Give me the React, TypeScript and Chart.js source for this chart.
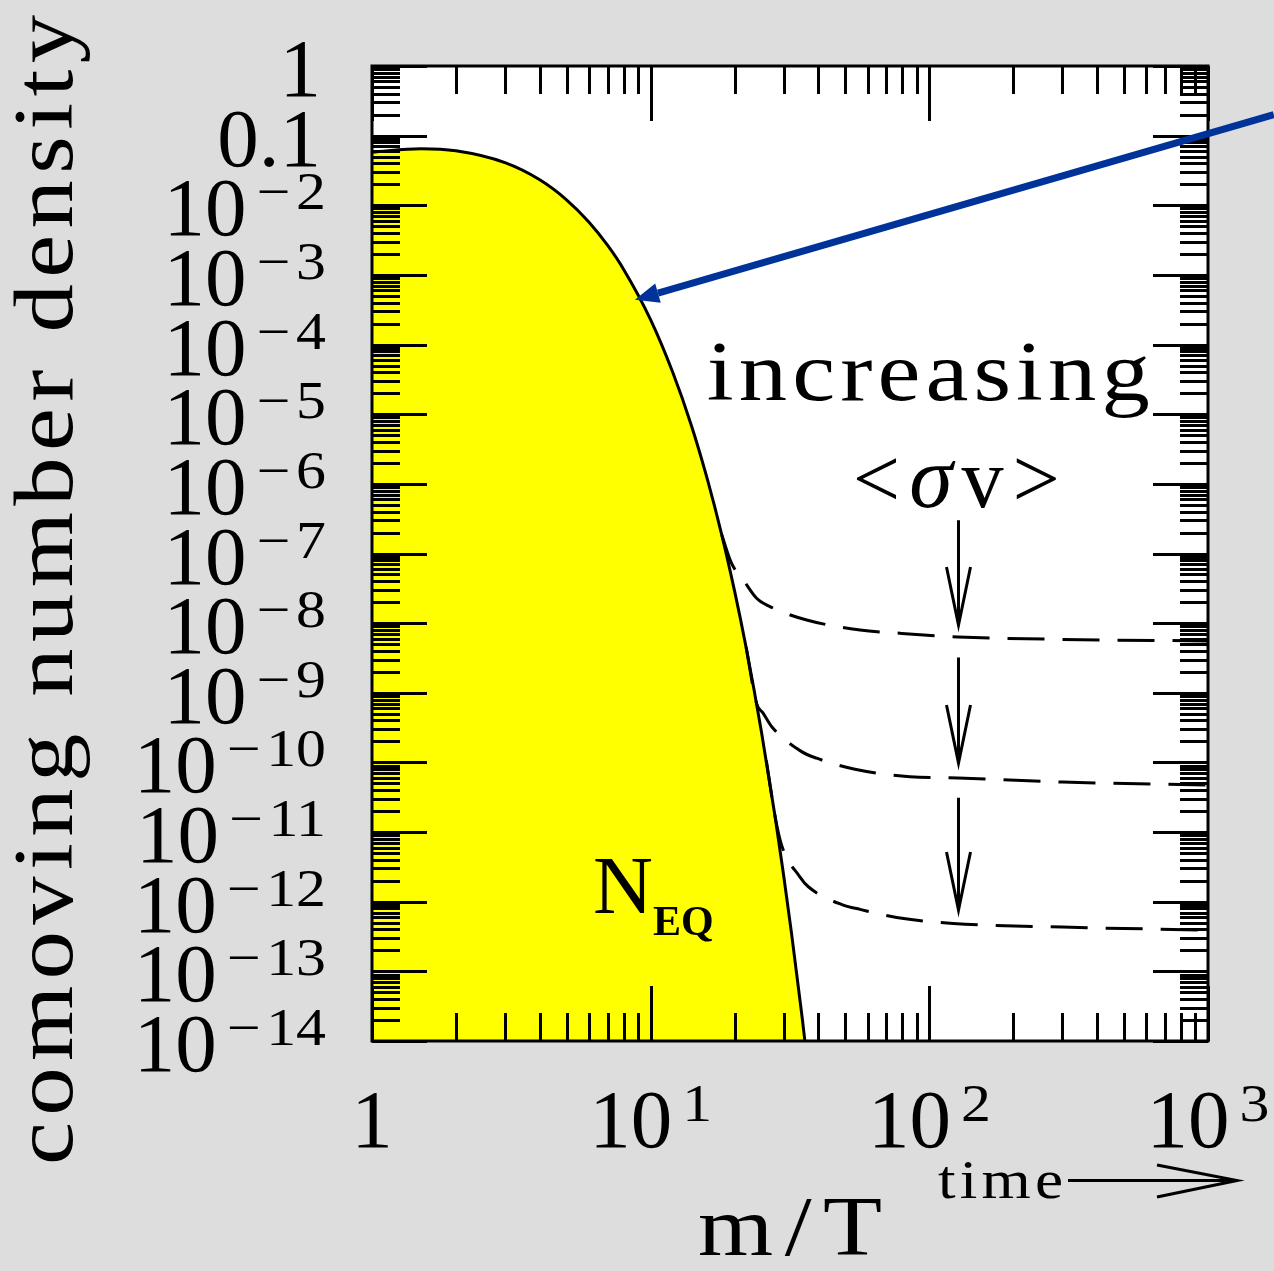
import React, { useEffect, useRef } from 'react';
import { Chart, registerables } from 'chart.js';

Chart.register(...registerables);

const CANVAS_W = 1274;
const CANVAS_H = 1271;

// x = m/T, y = comoving number density
const eqX = [1, 1.5, 2, 3, 4, 5, 6, 7, 8, 10, 12, 14, 16, 18, 20, 22, 25, 28, 30, 32, 35, 36];
const eqY = [0.058, 0.0648, 0.0605, 0.0409, 0.0232, 0.0119, 0.00576, 0.00267, 0.0012, 2.27e-4, 4.0e-5, 6.9e-6, 1.14e-6, 1.84e-7, 2.9e-8, 4.5e-9, 2.7e-10, 1.6e-11, 2.4e-12, 3.6e-13, 2.1e-14, 7.9e-15];

const fo1X = [18, 19.5, 21.5, 24, 26.8, 36.3, 56.4, 78.4, 126.6, 300, 1000];
const fo1Y = [1.84e-7, 7.26e-8, 4.18e-8, 2.28e-8, 1.73e-8, 1.11e-8, 7.98e-9, 7.16e-9, 6.34e-9, 5.84e-9, 5.55e-9];

const fo2X = [22, 24, 25.35, 27.2, 34.8, 39.4, 54.1, 85.2, 126.6, 300, 1000];
const fo2Y = [4.55e-9, 7.0e-10, 5.07e-10, 3.26e-10, 1.43e-10, 1.15e-10, 7.96e-11, 6.23e-11, 5.97e-11, 5.23e-11, 4.73e-11];

const fo3X = [26, 28, 29.5, 34.3, 36.8, 49.1, 56.4, 76.3, 121.8, 300, 1000];
const fo3Y = [1.07e-10, 1.62e-11, 6.5e-12, 2.28e-12, 1.64e-12, 8.93e-13, 7.76e-13, 5.94e-13, 4.88e-13, 4.32e-13, 3.91e-13];

const xTickValues = [1, 10, 100, 1000];
const xTickLabels = ['1', '10^1', '10^2', '10^3'];
const yTickValues = [1, 0.1, 1e-2, 1e-3, 1e-4, 1e-5, 1e-6, 1e-7, 1e-8, 1e-9, 1e-10, 1e-11, 1e-12, 1e-13, 1e-14];
const yTickLabels = ['1', '0.1', '10^−2', '10^−3', '10^−4', '10^−5', '10^−6', '10^−7', '10^−8', '10^−9', '10^−10', '10^−11', '10^−12', '10^−13', '10^−14'];

const xTitle = 'm/T';
const yTitle = 'comoving number density';
const increasingText = 'increasing';
const timeText = 'time';
const neqMain = 'N';
const neqSub = 'EQ';

// annotation anchors in data coordinates
const downArrowX = 127;
const downArrowTops = [3.0e-7, 3.2e-9, 3.1e-11];
const downArrowTips = [9.4e-9, 9.8e-11, 7.6e-13];
const blueArrowFrom = { x: 1722, y: 0.2 };
const blueArrowTo = { x: 8.78, y: 4.4e-4 };
const increasingPos = { x: 15.9, y: 1.61e-5 };
const sigmaVPos = { x: 125, y: 4.67e-7 };
const neqPos = { x: 6.21, y: 6.86e-13 };

const pts = (xs: number[], ys: number[]) => xs.map((x, i) => ({ x, y: ys[i] }));

const SERIF = '"Liberation Serif"';
const HSCALE = 1.15;

function widthSp(ctx: CanvasRenderingContext2D, s: string, sp: number) {
  if (!s) return 0;
  const cs = [...s];
  let w = 0;
  for (const c of cs) w += ctx.measureText(c).width;
  return w + sp * (cs.length - 1);
}
function drawSp(ctx: CanvasRenderingContext2D, s: string, x: number, y: number, sp: number) {
  for (const c of [...s]) {
    ctx.fillText(c, x, y);
    x += ctx.measureText(c).width + sp;
  }
  return x;
}
// draw text widened horizontally and letter-spaced to fill a target width
function drawWide(ctx: CanvasRenderingContext2D, s: string, x: number, y: number, target: number, hs = HSCALE) {
  const cs = [...s];
  const w = widthSp(ctx, s, 0);
  const sp = cs.length > 1 ? (target / hs - w) / (cs.length - 1) : 0;
  ctx.save();
  ctx.translate(x, y);
  ctx.scale(hs, 1);
  drawSp(ctx, s, 0, 0, sp);
  ctx.restore();
}

// exponent: minus sign, small gap, then digits; widened horizontally
const EXP_FONT = `52px ${SERIF}`;
const EXP_HS = 1.15;
const EXP_MINUS_GAP = 5;
function expWidth(ctx: CanvasRenderingContext2D, e: string) {
  if (!e) return 0;
  ctx.font = EXP_FONT;
  const minus = e.startsWith('−');
  const digits = minus ? e.slice(1) : e;
  let w = ctx.measureText(digits).width;
  if (minus) w += ctx.measureText('−').width + EXP_MINUS_GAP;
  return w * EXP_HS;
}
function drawExp(ctx: CanvasRenderingContext2D, e: string, x: number, y: number) {
  ctx.font = EXP_FONT;
  ctx.save();
  ctx.translate(x, y);
  ctx.scale(EXP_HS, 1);
  let cx = 0;
  let digits = e;
  if (e.startsWith('−')) {
    ctx.fillText('−', 0, 0);
    cx = ctx.measureText('−').width + EXP_MINUS_GAP;
    digits = e.slice(1);
  }
  ctx.fillText(digits, cx, 0);
  ctx.restore();
}

const decorPlugin = {
  id: 'decor',
  beforeDraw(chart: any) {
    const { ctx, chartArea: a } = chart;
    ctx.save();
    ctx.fillStyle = '#dddddd';
    ctx.fillRect(0, 0, chart.width, chart.height);
    ctx.fillStyle = '#ffffff';
    ctx.fillRect(a.left, a.top, a.right - a.left, a.bottom - a.top);
    ctx.restore();
  },
  afterDraw(chart: any) {
    const { ctx, chartArea: a } = chart;
    const xs = chart.scales.x;
    const ys = chart.scales.y;
    const MINOR = 28;
    const MAJOR = 55;
    ctx.save();
    ctx.strokeStyle = '#000';
    ctx.fillStyle = '#000';
    ctx.lineWidth = 3;
    ctx.lineCap = 'butt';

    // y ticks (left and right, inward)
    ctx.beginPath();
    for (let e = -14; e <= 0; e++) {
      const p = Math.round(ys.getPixelForValue(Math.pow(10, e))) + 0.5;
      ctx.moveTo(a.left, p); ctx.lineTo(a.left + MAJOR, p);
      ctx.moveTo(a.right, p); ctx.lineTo(a.right - MAJOR, p);
      if (e < 0) {
        for (let m = 2; m <= 9; m++) {
          const q = Math.round(ys.getPixelForValue(m * Math.pow(10, e))) + 0.5;
          ctx.moveTo(a.left, q); ctx.lineTo(a.left + MINOR, q);
          ctx.moveTo(a.right, q); ctx.lineTo(a.right - MINOR, q);
        }
      }
    }
    // x ticks (top and bottom, inward)
    for (let e = 0; e <= 3; e++) {
      const p = Math.round(xs.getPixelForValue(Math.pow(10, e))) + 0.5;
      ctx.moveTo(p, a.top); ctx.lineTo(p, a.top + MAJOR);
      ctx.moveTo(p, a.bottom); ctx.lineTo(p, a.bottom - MAJOR);
      if (e < 3) {
        for (let m = 2; m <= 9; m++) {
          const q = Math.round(xs.getPixelForValue(m * Math.pow(10, e))) + 0.5;
          ctx.moveTo(q, a.top); ctx.lineTo(q, a.top + MINOR);
          ctx.moveTo(q, a.bottom); ctx.lineTo(q, a.bottom - MINOR);
        }
      }
    }
    ctx.stroke();
    // frame
    ctx.strokeRect(a.left, a.top, a.right - a.left, a.bottom - a.top);

    const MAIN_FONT = `83px ${SERIF}`;
    ctx.textAlign = 'left';
    ctx.textBaseline = 'alphabetic';

    // y tick labels
    yTickValues.forEach((v, i) => {
      const [b, e = ''] = yTickLabels[i].split('^');
      const py = ys.getPixelForValue(v);
      const base = py + 30;
      const ew = expWidth(ctx, e);
      ctx.font = MAIN_FONT;
      const bw = widthSp(ctx, b, 0);
      const gap = e ? 10 : 0;
      const right = e ? a.left - 46 : a.left - 51;
      const x0 = right - ew - gap - bw;
      ctx.font = MAIN_FONT;
      drawSp(ctx, b, x0, base, 0);
      if (e) drawExp(ctx, e, x0 + bw + gap, base - 26);
    });

    // x tick labels
    xTickValues.forEach((v, i) => {
      const [b, e = ''] = xTickLabels[i].split('^');
      const px = xs.getPixelForValue(v);
      const base = a.bottom + 106;
      const ew = expWidth(ctx, e);
      ctx.font = MAIN_FONT;
      const bw = widthSp(ctx, b, 0);
      const gap = e ? 10 : 0;
      const x0 = px - (bw + gap + ew) / 2;
      ctx.font = MAIN_FONT;
      drawSp(ctx, b, x0, base, 0);
      if (e) drawExp(ctx, e, x0 + bw + gap, base - 26);
    });

    // x title
    ctx.font = `84px ${SERIF}`;
    drawWide(ctx, xTitle, 698, 1255, 184);

    // y title (rotated)
    ctx.save();
    ctx.translate(72, 590);
    ctx.rotate(-Math.PI / 2);
    ctx.font = `84px ${SERIF}`;
    drawWide(ctx, yTitle, -575, 0, 1150);
    ctx.restore();

    // "increasing"
    ctx.font = `84px ${SERIF}`;
    drawWide(ctx, increasingText, xs.getPixelForValue(increasingPos.x), ys.getPixelForValue(increasingPos.y), 443);

    // "<σv>"
    {
      const parts: [string, string][] = [
        ['<', `84px ${SERIF}`],
        ['σ', `italic 88px ${SERIF}`],
        ['v', `84px ${SERIF}`],
        ['>', `84px ${SERIF}`],
      ];
      let w = 0;
      for (const [s, f] of parts) { ctx.font = f; w += ctx.measureText(s).width; }
      const target = 207;
      const sp = (target - w) / (parts.length - 1);
      let x = xs.getPixelForValue(sigmaVPos.x) - target / 2;
      const y = ys.getPixelForValue(sigmaVPos.y);
      for (const [s, f] of parts) { ctx.font = f; ctx.fillText(s, x, y); x += ctx.measureText(s).width + sp; }
    }
    // N_EQ
    {
      const x = xs.getPixelForValue(neqPos.x);
      const y = ys.getPixelForValue(neqPos.y);
      ctx.font = `83px ${SERIF}`;
      ctx.fillText(neqMain, x, y);
      const nw = ctx.measureText(neqMain).width;
      ctx.font = `bold 42px ${SERIF}`;
      drawSp(ctx, neqSub, x + nw, y + 22, 0);
    }

    // down arrows
    ctx.lineWidth = 3;
    ctx.lineJoin = 'miter';
    for (let i = 0; i < downArrowTops.length; i++) {
      const x = Math.round(xs.getPixelForValue(downArrowX)) + 0.5;
      const y0 = ys.getPixelForValue(downArrowTops[i]);
      const y1 = ys.getPixelForValue(downArrowTips[i]);
      ctx.beginPath();
      ctx.moveTo(x, y0); ctx.lineTo(x, y1);
      ctx.moveTo(x - 12, y1 - 58); ctx.lineTo(x, y1); ctx.lineTo(x + 12, y1 - 58);
      ctx.stroke();
    }

    // time arrow (below the axis)
    ctx.font = `55px ${SERIF}`;
    drawWide(ctx, timeText, 938, 1198, 125);
    ctx.beginPath();
    ctx.moveTo(1068, 1180.5); ctx.lineTo(1236, 1180.5);
    ctx.moveTo(1157, 1165); ctx.lineTo(1237, 1180.5); ctx.lineTo(1157, 1197);
    ctx.stroke();

    // blue arrow
    {
      const x0 = xs.getPixelForValue(blueArrowFrom.x);
      const y0 = ys.getPixelForValue(blueArrowFrom.y);
      const x1 = xs.getPixelForValue(blueArrowTo.x);
      const y1 = ys.getPixelForValue(blueArrowTo.y);
      const ang = Math.atan2(y1 - y0, x1 - x0);
      const L = 24, HW = 10;
      const bx = x1 - L * Math.cos(ang), by = y1 - L * Math.sin(ang);
      ctx.strokeStyle = '#003399';
      ctx.fillStyle = '#003399';
      ctx.lineWidth = 7;
      ctx.beginPath();
      ctx.moveTo(x0, y0); ctx.lineTo(bx, by);
      ctx.stroke();
      ctx.beginPath();
      ctx.moveTo(x1, y1);
      ctx.lineTo(bx + HW * Math.sin(ang), by - HW * Math.cos(ang));
      ctx.lineTo(bx - HW * Math.sin(ang), by + HW * Math.cos(ang));
      ctx.closePath();
      ctx.fill();
    }
    ctx.restore();
  },
};

export default function App() {
  const ref = useRef<HTMLCanvasElement>(null);
  useEffect(() => {
    const dashed = {
      borderColor: '#000000',
      borderWidth: 3,
      borderDash: [37, 18],
      pointRadius: 0,
      fill: false,
      cubicInterpolationMode: 'monotone' as const,
    };
    const chart = new Chart(ref.current as HTMLCanvasElement, {
      type: 'line',
      data: {
        datasets: [
          { ...dashed, label: 'fo1', data: pts(fo1X, fo1Y) },
          { ...dashed, label: 'fo2', data: pts(fo2X, fo2Y) },
          { ...dashed, label: 'fo3', data: pts(fo3X, fo3Y) },
          {
            label: 'N_EQ',
            data: pts(eqX, eqY),
            borderColor: '#000000',
            borderWidth: 3,
            backgroundColor: '#ffff00',
            fill: 'start',
            pointRadius: 0,
            cubicInterpolationMode: 'monotone',
          },
        ],
      },
      options: {
        responsive: false,
        animation: false,
        layout: { padding: { left: 372, top: 66, right: 66, bottom: 230 } },
        plugins: { legend: { display: false }, tooltip: { enabled: false } },
        scales: {
          x: { type: 'logarithmic', min: 1, max: 1000, display: false },
          y: { type: 'logarithmic', min: 1e-14, max: 1, display: false },
        },
      },
      plugins: [decorPlugin],
    } as any);
    return () => chart.destroy();
  }, []);
  return (
    <div style={{ position: 'absolute', left: 0, top: 0, width: CANVAS_W, height: CANVAS_H }}>
      <canvas ref={ref} width={CANVAS_W} height={CANVAS_H} style={{ display: 'block' }} />
    </div>
  );
}
